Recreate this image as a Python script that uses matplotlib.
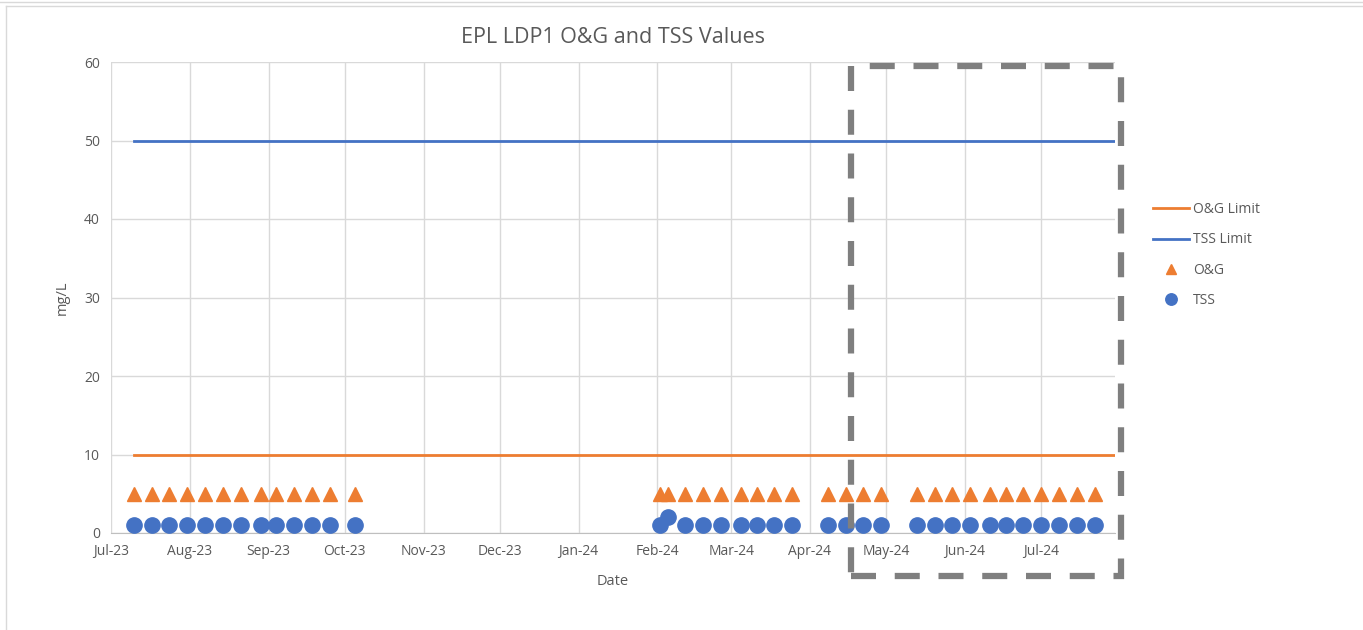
import matplotlib
matplotlib.use("Agg")
import matplotlib.pyplot as plt
import matplotlib.dates as mdates
from matplotlib.patches import Rectangle
from matplotlib.lines import Line2D
import numpy as np
import pandas as pd

# weekly sample dates
sample_dates = [
    "2023-07-10", "2023-07-17", "2023-07-24", "2023-07-31", "2023-08-07",
    "2023-08-14", "2023-08-21", "2023-08-29", "2023-09-04", "2023-09-11",
    "2023-09-18", "2023-09-25", "2023-10-05",
    "2024-02-02", "2024-02-05", "2024-02-12", "2024-02-19", "2024-02-26",
    "2024-03-05", "2024-03-11", "2024-03-18", "2024-03-25",
    "2024-04-08", "2024-04-15", "2024-04-22", "2024-04-29",
    "2024-05-13", "2024-05-20", "2024-05-27", "2024-06-03", "2024-06-11",
    "2024-06-17", "2024-06-24", "2024-07-01", "2024-07-08", "2024-07-15",
    "2024-07-22",
]
og_values = [5] * 37
tss_values = [1] * 14 + [2] + [1] * 22

limit_dates = ["2023-07-10", "2024-07-30"]
og_limit = [10, 10]
tss_limit = [50, 50]

x_start = "2023-07-01"
x_end = "2024-07-30"

dates = pd.to_datetime(sample_dates)
ldates = pd.to_datetime(limit_dates)

orange = "#ED7D31"
blue = "#4472C4"
grey_txt = "#595959"
font = "Open Sans"

fig = plt.figure(figsize=(13.63, 6.30), dpi=100)
ax = fig.add_axes([111 / 1363, 97 / 630, 1004 / 1363, 471 / 630])

ax.plot(ldates, og_limit, color=orange, lw=2, label="O&G Limit", zorder=3)
ax.plot(ldates, tss_limit, color=blue, lw=2, label="TSS Limit", zorder=3)
ax.plot(dates, og_values, ls="none", marker="^", ms=10, color=orange, label="O&G", zorder=4)
ax.plot(dates, tss_values, ls="none", marker="o", ms=11, color=blue, label="TSS", zorder=4)

ax.set_xlim(pd.Timestamp(x_start), pd.Timestamp(x_end))
ax.set_ylim(0, 60)
ax.set_yticks(np.arange(0, 61, 10))
ax.xaxis.set_major_locator(mdates.MonthLocator())
ax.xaxis.set_major_formatter(mdates.DateFormatter("%b-%y"))
ax.grid(True, color="#D9D9D9", lw=1)
ax.set_axisbelow(True)
for s in ["top", "right", "left"]:
    ax.spines[s].set_visible(False)
ax.spines["bottom"].set_color("#BFBFBF")
ax.tick_params(length=0, colors=grey_txt, labelsize=10, pad=8)
for lab in ax.get_xticklabels() + ax.get_yticklabels():
    lab.set_fontfamily(font)

ax.set_title("EPL LDP1 O&G and TSS Values", fontsize=15.5, color=grey_txt, family=font, pad=14)
ax.set_xlabel("Date", fontsize=10.5, color=grey_txt, family=font, labelpad=11)
ax.set_ylabel("mg/L", fontsize=10.5, color=grey_txt, family=font, labelpad=10)

leg = ax.legend(loc="center left", bbox_to_anchor=(1.025, 0.59), frameon=False,
                prop={"family": font, "size": 10}, handlelength=2.6, labelspacing=1.1,
                handletextpad=0.3, markerscale=0.75)
for t in leg.get_texts():
    t.set_color(grey_txt)

# dashed highlight box drawn over the chart
box = Rectangle((851 / 1363, 1 - 576 / 630), 270 / 1363, 510 / 630, transform=fig.transFigure,
                fill=False, edgecolor="#7F7F7F", lw=4.5, linestyle=(0, (4.0, 3.0)),
                clip_on=False, zorder=10)
fig.patches.append(box)

# chart area border lines
fig.add_artist(Line2D([0, 1], [1 - 2 / 630, 1 - 2 / 630], color="#D9D9D9", lw=1))
fig.add_artist(Line2D([6 / 1363, 1], [1 - 6 / 630, 1 - 6 / 630], color="#D9D9D9", lw=1))
fig.add_artist(Line2D([6 / 1363, 6 / 1363], [0, 1 - 6 / 630], color="#D9D9D9", lw=1))

fig.savefig("out.png", dpi=100)
